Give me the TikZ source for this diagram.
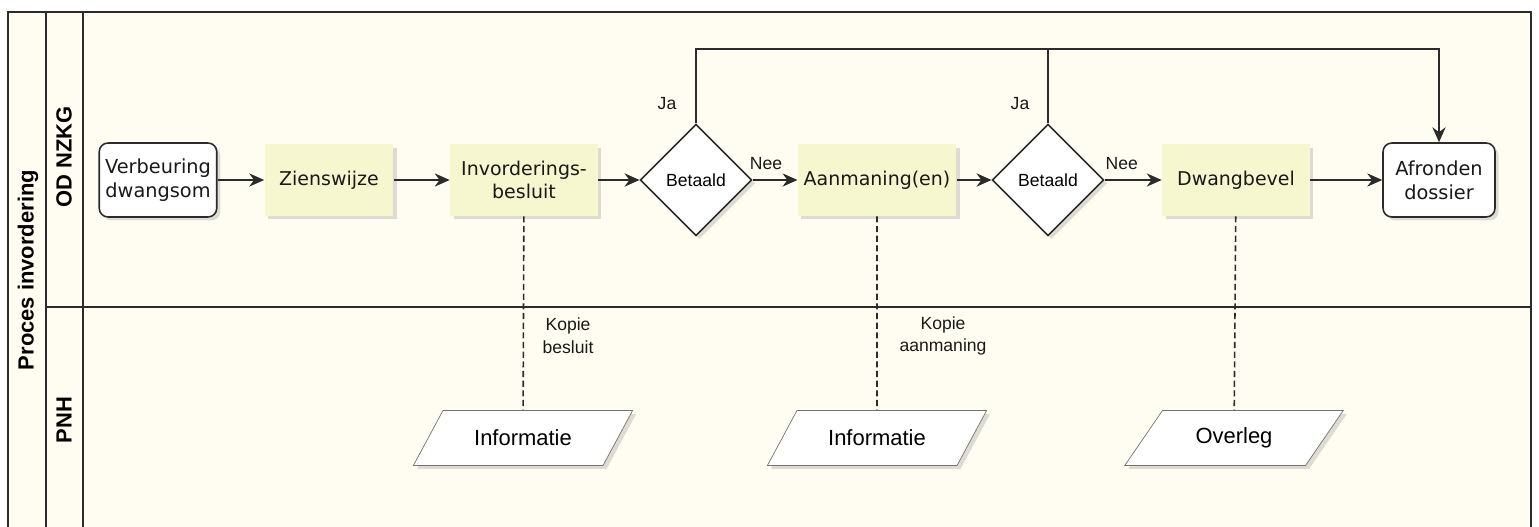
\documentclass[tikz,border=0pt]{standalone}
\usepackage{fontspec}
\setmainfont{DejaVu Sans}
\newfontfamily\arialfont{Liberation Sans}
\usetikzlibrary{arrows.meta,shapes.geometric,shadows}
\definecolor{lanebg}{HTML}{FFFDF1}
\definecolor{taskbg}{HTML}{F6F7CE}
\definecolor{linecol}{HTML}{2B2B2B}

\begin{document}
\begin{tikzpicture}[x=0.02cm,y=-0.02cm,
  shade/.style={drop shadow={shadow xshift=0.07cm,shadow yshift=-0.07cm,opacity=0.22,fill=black!60}},
  event/.style={draw=linecol,line width=0.9pt,fill=white,rounded corners=5pt,minimum width=2.24cm,minimum height=1.48cm,align=center,text=black!90,font=\fontsize{11}{13.5}\selectfont,shade},
  task/.style={fill=taskbg,minimum width=2.96cm,minimum height=1.44cm,align=center,text=black!90,font=\fontsize{10.8}{13.5}\selectfont,shade},
  gate/.style={diamond,draw=linecol,line width=0.9pt,fill=white,minimum size=2.23cm,inner sep=0pt,font=\arialfont\fontsize{10}{12}\selectfont,shade},
  info/.style={trapezium,trapezium left angle=54,trapezium right angle=126,trapezium stretches=true,draw=black!55,fill=white,minimum width=4.4cm,minimum height=1.1cm,font=\arialfont\fontsize{12.5}{15}\selectfont,shade},
  flow/.style={draw=linecol,line width=0.9pt,-{Stealth[length=8.5pt,width=7.5pt]}},
  link/.style={draw=linecol,line width=0.9pt,dash pattern=on 3.5pt off 2pt},
  lbl/.style={font=\arialfont\fontsize{10}{13}\selectfont,align=center,text=black!90},
  lane/.style={font=\arialfont\bfseries\fontsize{12.5}{15}\selectfont,rotate=90}]

\useasboundingbox (0,0) rectangle (1539,527);
\fill[lanebg] (8,12) rectangle (1531,527);
\draw[linecol,line width=1pt] (8,527) -- (8,12) -- (1531,12) -- (1531,527);
\draw[linecol,line width=1pt] (46,12) -- (46,527);
\draw[linecol,line width=1pt] (83,12) -- (83,527);
\draw[linecol,line width=1pt] (46,307) -- (1531,307);

\node[lane] (proc) at (28,270) {Proces invordering};
\node[lane] (odn) at (64,157) {OD NZKG};
\node[lane] (pnh) at (64,420) {PNH};

\node[event] (start) at (158,180) {Verbeuring\\dwangsom};
\node[task,minimum width=2.58cm] (zien) at (329,180) {Zienswijze};
\node[task] (besl) at (524,180) {Invorderings-\\besluit};
\node[gate] (bet1) at (696,180) {Betaald};
\node[task] (aanm) at (877,180) {Aanmaning(en)};
\node[gate] (bet2) at (1048,180) {Betaald};
\node[task] (dwang) at (1236,180) {Dwangbevel};
\node[event] (afr) at (1439,180) {Afronden\\dossier};

\node[info] (inf1) at (523,438) {Informatie};
\node[info] (inf2) at (877,438) {Informatie};
\node[info] (overl) at (1234,438) {Overleg};

\coordinate (top) at (1439,49);

\draw[flow] (start) -- (zien);
\draw[flow] (zien) -- (besl);
\draw[flow] (besl) -- (bet1);
\draw[flow] (bet1) -- node[lbl,above=2pt,pos=0.3] (nee1) {Nee} (aanm);
\draw[flow] (aanm) -- (bet2);
\draw[flow] (bet2) -- node[lbl,above=2pt,pos=0.3] (nee2) {Nee} (dwang);
\draw[flow] (dwang) -- (afr);
\draw[flow] (bet1.north) |- (top) -- (afr.north);
\draw[linecol,line width=0.9pt] (bet2.north) -- (bet2.north |- top);
\node[lbl] (ja1) at (667,104) {Ja};
\node[lbl] (ja2) at (1020,104) {Ja};

\draw[link] (besl) -- (inf1);
\draw[link] (aanm) -- (inf2);
\draw[link] (dwang) -- (overl);
\node[lbl] (kop1) at (568,336) {Kopie\\besluit};
\node[lbl] (kop2) at (943,336) {Kopie\\aanmaning};
\end{tikzpicture}
\end{document}
